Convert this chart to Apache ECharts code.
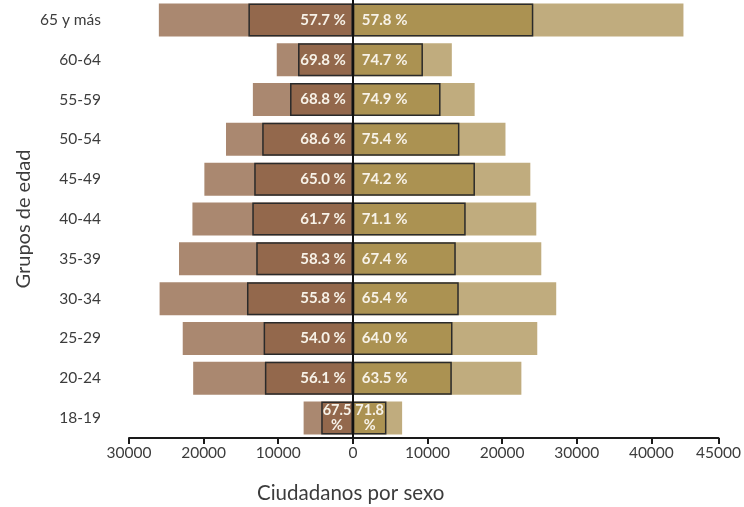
<!DOCTYPE html>
<html>
<head>
<meta charset="utf-8">
<script src="https://cdn.jsdelivr.net/npm/echarts@6/dist/echarts.min.js"></script>
<style>html,body{margin:0;padding:0;background:#fff}#c{width:744px;height:507px}</style>
</head>
<body>
<div id="c"></div>
<script>
const categories = ['65 y más','60-64','55-59','50-54','45-49','40-44','35-39','30-34','25-29','20-24','18-19'];
const menTotal   = [26000,10200,13400,17000,19900,21500,23300,25900,22800,21400,6600];
const menVoters  = [14000,7350,8420,12150,13220,13480,12950,14190,11960,11790,4240];
const womenTotal = [44300,13260,16320,20450,23780,24580,25250,27250,24710,22580,6600];
const womenVoters= [24180,9390,11750,14280,16360,15120,13790,14190,13350,13260,4500];
const menPct   = ['57.7','69.8','68.8','68.6','65.0','61.7','58.3','55.8','54.0','56.1','67.5'];
const womenPct = ['57.8','74.7','74.9','75.4','74.2','71.1','67.4','65.4','64.0','63.5','71.8'];
const tickValues = [-30000,-20000,-10000,0,10000,20000,30000,40000,49000];
const tickLabels = ['30000','20000','10000','0','10000','20000','30000','40000','45000'];

const FONT = 'Lato';
const chart = echarts.init(document.getElementById('c'), null, {renderer:'canvas'});
const narrow = categories.length - 1;

const pctLabel = (arr, side, dist) => ({
  show: true,
  position: side,
  distance: dist,
  color: '#f7f2e8',
  fontFamily: FONT,
  fontWeight: 'bold',
  fontSize: 15,
  formatter: p => arr[p.dataIndex] + ' %'
});

function voterData(vals, arr, neg) {
  return vals.map((v, i) => {
    const item = { value: neg ? -v : v };
    if (i === narrow) {
      item.label = { position: 'inside', formatter: arr[i] + '\n%', lineHeight: 15, fontSize: 14.5 };
    }
    return item;
  });
}

chart.setOption({
  animation: false,
  backgroundColor: '#ffffff',
  grid: { left: 129, right: 23, top: 0, bottom: 69, containLabel: false },
  xAxis: {
    type: 'value',
    min: -30000, max: 49000,
    splitLine: { show: false },
    axisLine: { show: true, lineStyle: { color: '#1a1a1a', width: 2 } },
    axisTick: { show: true, length: 6, customValues: tickValues, lineStyle: { color: '#1a1a1a', width: 2 } },
    axisLabel: {
      customValues: tickValues,
      margin: 7,
      color: '#3c3c3c', fontFamily: FONT, fontSize: 15.5,
      formatter: v => { const i = tickValues.indexOf(v); return i >= 0 ? tickLabels[i] : ''; }
    }
  },
  yAxis: {
    type: 'category',
    inverse: true,
    data: categories,
    name: 'Grupos de edad',
    nameLocation: 'middle',
    nameMoveOverlap: false,
    nameGap: 95,
    nameTextStyle: { color: '#3c3c3c', fontFamily: FONT, fontSize: 20 },
    axisLine: { show: false },
    axisTick: { show: false },
    axisLabel: { margin: 28, color: '#3c3c3c', fontFamily: FONT, fontSize: 15.5 }
  },
  graphic: [{
    type: 'text',
    left: 257, top: 483,
    style: { text: 'Ciudadanos por sexo', fill: '#3c3c3c', font: '20.5px ' + FONT }
  }],
  series: [
    { name: 'Hombres total', type: 'bar', stack: 'total', barWidth: 33, barGap: '-100%',
      itemStyle: { color: '#aa8870' }, data: menTotal.map(v => -v) },
    { name: 'Mujeres total', type: 'bar', stack: 'total', barWidth: 33, barGap: '-100%',
      itemStyle: { color: '#c0ac7e' }, data: womenTotal },
    { name: 'Hombres votantes', type: 'bar', stack: 'voters', barWidth: 33, barGap: '-100%',
      itemStyle: { color: '#93684c', borderColor: '#2a2a2a', borderWidth: 1.5 },
      label: pctLabel(menPct, 'insideRight', 7),
      data: voterData(menVoters, menPct, true),
      markLine: { silent: true, symbol: ['none','none'], label: { show: false },
        lineStyle: { color: '#111', width: 2, type: 'solid' }, data: [{ xAxis: 0 }] } },
    { name: 'Mujeres votantes', type: 'bar', stack: 'voters', barWidth: 33, barGap: '-100%',
      itemStyle: { color: '#ab9252', borderColor: '#2a2a2a', borderWidth: 1.5 },
      label: pctLabel(womenPct, 'insideLeft', 9),
      data: voterData(womenVoters, womenPct, false) }
  ]
});
</script>
</body>
</html>
